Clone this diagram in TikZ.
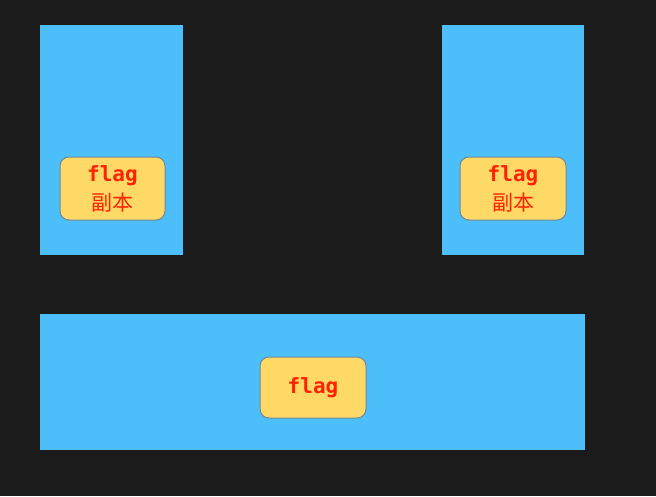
\documentclass[tikz,border=0pt]{standalone}
\usepackage{fontspec}
\setmonofont{DejaVu Sans Mono}
\newfontfamily\cjk{Noto Sans CJK SC}
\definecolor{bgc}{HTML}{1B1B1B}
\definecolor{bluec}{HTML}{4CBEFA}
\definecolor{yelc}{HTML}{FFD966}
\definecolor{yelb}{HTML}{6F8799}
\definecolor{redc}{HTML}{FF2200}
\tikzset{
  region/.style={fill=bluec, draw=none},
  flagbox/.style={fill=yelc, draw=yelb, line width=1pt, rounded corners=9pt, align=center, text=redc, inner sep=0pt, font=\fontsize{21}{29}\selectfont}
}
\begin{document}
\begin{tikzpicture}[x=1pt,y=-1pt]
\fill[bgc] (0,0) rectangle (656,496);
\useasboundingbox (0,0) rectangle (656,496);
\node[region, minimum width=143pt, minimum height=230pt] (lt) at (111.5,140) {};
\node[region, minimum width=142pt, minimum height=230pt] (rt) at (513,140) {};
\node[region, minimum width=545pt, minimum height=136pt] (bt) at (312.5,382) {};
\node[flagbox, minimum width=105pt, minimum height=63pt] (lf) at (112.5,188.5) {\ttfamily\bfseries flag\\{\cjk 副本}};
\node[flagbox, minimum width=106pt, minimum height=63pt] (rf) at (513,188.5) {\ttfamily\bfseries flag\\{\cjk 副本}};
\node[flagbox, minimum width=106pt, minimum height=61pt] (bf) at (313,387.5) {\ttfamily\bfseries flag};
\end{tikzpicture}
\end{document}
